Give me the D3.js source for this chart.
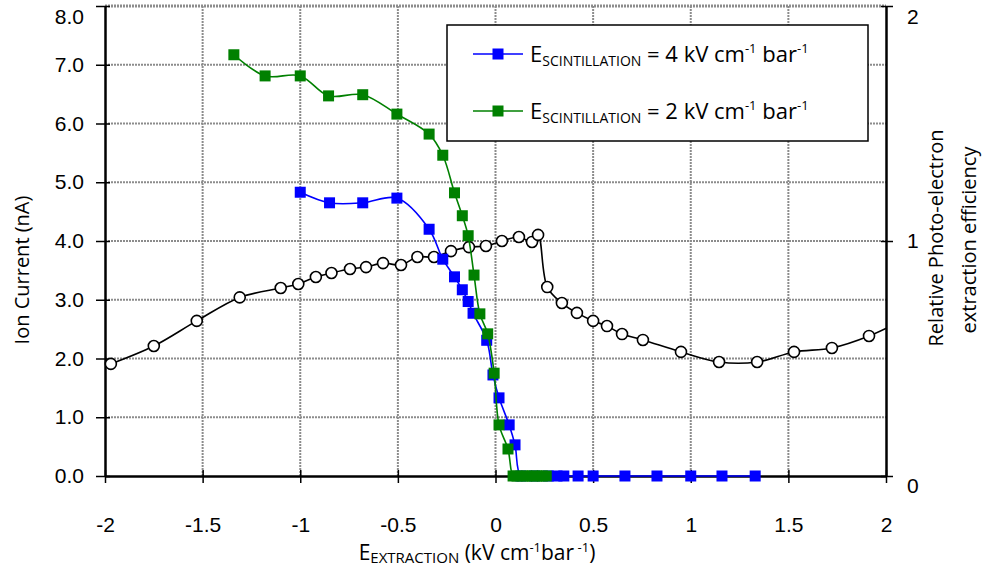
<!DOCTYPE html>
<html>
<head>
<meta charset="utf-8">
<script src="https://cdn.jsdelivr.net/npm/d3@7"></script>
<style>
  body { margin: 0; background: #fff; }
  svg { font-family: "Open Sans", sans-serif; }
</style>
</head>
<body>
<svg width="983" height="572"></svg>
<script>
"use strict"

// relative photo-electron extraction efficiency (right axis)
const effX = [-1.97, -1.75, -1.53, -1.31, -1.10, -1.01, -0.92, -0.84, -0.745, -0.663, -0.576, -0.484, -0.40, -0.315, -0.228, -0.136, -0.049, 0.033, 0.12, 0.187, 0.218, 0.265, 0.34, 0.417, 0.50, 0.571, 0.648, 0.755, 0.95, 1.145, 1.34, 1.529, 1.723, 1.913]
const effY = [0.477, 0.553, 0.66, 0.76, 0.80, 0.817, 0.847, 0.864, 0.881, 0.889, 0.906, 0.898, 0.932, 0.932, 0.957, 0.974, 0.979, 1.0, 1.017, 0.996, 1.026, 0.804, 0.736, 0.694, 0.66, 0.638, 0.604, 0.579, 0.528, 0.485, 0.485, 0.528, 0.545, 0.596]
// line continues past the right edge of the plot
const effTailX = [2.1]
const effTailY = [0.67]

// ion current, E_scintillation = 4 kV/cm/bar
const blueX = [-1.0, -0.85, -0.68, -0.505, -0.34, -0.27, -0.21, -0.17, -0.14, -0.115, -0.045, -0.013, 0.018, 0.07, 0.10, 0.13, 0.2, 0.27, 0.315, 0.35, 0.423, 0.5, 0.663, 0.827, 1.0, 1.16, 1.33]
const blueY = [4.83, 4.65, 4.65, 4.73, 4.20, 3.69, 3.39, 3.17, 2.97, 2.77, 2.31, 1.72, 1.33, 0.87, 0.53, 0, 0, 0, 0, 0, 0, 0, 0, 0, 0, 0, 0]

// ion current, E_scintillation = 2 kV/cm/bar
const greenX = [-1.34, -1.18, -1.0, -0.855, -0.68, -0.505, -0.34, -0.27, -0.21, -0.17, -0.14, -0.11, -0.08, -0.04, -0.007, 0.018, 0.064, 0.09, 0.11, 0.14, 0.16, 0.19, 0.21, 0.24, 0.26]
const greenY = [7.17, 6.81, 6.81, 6.47, 6.49, 6.16, 5.82, 5.46, 4.82, 4.43, 4.09, 3.42, 2.76, 2.42, 1.75, 0.87, 0.46, 0, 0, 0, 0, 0, 0, 0, 0]

const xTicks = [-2, -1.5, -1, -0.5, 0, 0.5, 1, 1.5, 2]
const yLeftTicks = [0, 1, 2, 3, 4, 5, 6, 7, 8]
const yRightTicks = [0, 1, 2]

const plotLeft = 105, plotRight = 886, plotTop = 6, plotBottom = 476

const x = d3.scaleLinear().domain([-2, 2]).range([plotLeft, plotRight])
const yL = d3.scaleLinear().domain([0, 8]).range([plotBottom, plotTop])
const yR = d3.scaleLinear().domain([0, 2]).range([plotBottom, plotTop])

const svg = d3.select("svg")

svg.append("defs").append("clipPath").attr("id", "plot-clip")
    .append("rect").attr("x", plotLeft).attr("y", 0).attr("width", plotRight - plotLeft).attr("height", plotBottom + 10)

// grid
const grid = svg.append("g").attr("class", "grid")
grid.selectAll("line.h").data(yLeftTicks.filter(d => d > 0)).enter().append("line")
    .attr("x1", plotLeft).attr("x2", plotRight)
    .attr("y1", d => yL(d)).attr("y2", d => yL(d))
    .style("stroke", "#8c8c8c").style("stroke-width", d => d === 8 ? 3 : 2).style("stroke-dasharray", "2,1")
grid.selectAll("line.v").data(xTicks.filter(d => d > -2 && d < 2)).enter().append("line")
    .attr("x1", d => x(d)).attr("x2", d => x(d))
    .attr("y1", plotTop).attr("y2", plotBottom)
    .style("stroke", "#8c8c8c").style("stroke-width", 2).style("stroke-dasharray", "2,1")

// axes
const xAxis = d3.axisBottom(x).tickValues(xTicks).tickSizeInner(7).tickSizeOuter(0).tickPadding(49)
    .tickFormat(d => String(d))
const gx = svg.append("g").attr("transform", "translate(0," + plotBottom + ")").call(xAxis)
gx.selectAll(".tick line").attr("y1", -6).style("stroke-width", 1.5)
gx.select(".domain").style("stroke-width", 2.5)
gx.selectAll("text").style("font-size", "21px").attr("dy", "0")

const yAxisL = d3.axisLeft(yL).tickValues(yLeftTicks).tickSizeInner(8).tickSizeOuter(0).tickPadding(13)
    .tickFormat(d3.format(".1f"))
const gyl = svg.append("g").attr("transform", "translate(" + plotLeft + ",0)").call(yAxisL)
gyl.selectAll(".tick line").attr("x2", -9).attr("x1", 5).style("stroke-width", 1.5)
gyl.select(".domain").style("stroke-width", 2.5)
gyl.selectAll("text").style("font-size", "21px")
gyl.selectAll(".tick").filter(d => d === 8).select("text").attr("y", 11)

const yAxisR = d3.axisRight(yR).tickValues(yRightTicks).tickSizeInner(7).tickSizeOuter(0).tickPadding(14)
    .tickFormat(d3.format("d"))
const gyr = svg.append("g").attr("transform", "translate(" + plotRight + ",0)").call(yAxisR)
gyr.selectAll(".tick line").attr("x1", -5).style("stroke-width", 1.5)
gyr.select(".domain").style("stroke-width", 2.5)
gyr.selectAll("text").style("font-size", "21px")
gyr.selectAll(".tick").filter(d => d === 2).select("text").attr("y", 11)
gyr.selectAll(".tick").filter(d => d === 0).select("text").attr("y", 10)

svg.selectAll(".tick text").style("fill", "#000")
svg.selectAll(".domain, .tick line").style("stroke", "#000")

// series
const plot = svg.append("g").attr("clip-path", "url(#plot-clip)")
const smooth = d3.line().curve(d3.curveCatmullRom.alpha(0.5))

const effAllY = effY.concat(effTailY)
const effPts = effX.concat(effTailX).map((d, i) => [x(d), yR(effAllY[i])])
plot.append("path").attr("d", smooth(effPts))
    .style("fill", "none").style("stroke", "#000").style("stroke-width", 1.6)

svg.append("g").selectAll("circle").data(effX.map((d, i) => [d, effY[i]])).enter().append("circle")
    .attr("cx", d => x(d[0])).attr("cy", d => yR(d[1])).attr("r", 5.5)
    .style("fill", "#fff").style("stroke", "#000").style("stroke-width", 1.6)

const series = [
    { xs: blueX, ys: blueY, color: "#0000ff" },
    { xs: greenX, ys: greenY, color: "#008000" }
]

series.forEach(s => {
    const pts = s.xs.map((d, i) => [x(d), yL(s.ys[i])])
    svg.append("path").attr("d", smooth(pts))
        .style("fill", "none").style("stroke", s.color).style("stroke-width", 1.6)
    svg.append("g").selectAll("rect").data(pts).enter().append("rect")
        .attr("x", d => d[0] - 5.5).attr("y", d => d[1] - 5.5)
        .attr("width", 11).attr("height", 11)
        .style("fill", s.color)
})

// axis titles
const xt = svg.append("text").attr("x", 477).attr("y", 560).attr("text-anchor", "middle").style("font-size", "21px")
xt.append("tspan").text("E")
xt.append("tspan").text("EXTRACTION").style("font-size", "15px").attr("dy", 3)
xt.append("tspan").text(" (kV cm").style("font-size", "21px").attr("dy", -3)
xt.append("tspan").text("-1").style("font-size", "13px").attr("dy", -8)
xt.append("tspan").text("bar").style("font-size", "21px").attr("dy", 8)
xt.append("tspan").text(" -1").style("font-size", "13px").attr("dy", -8)
xt.append("tspan").text(")").style("font-size", "21px").attr("dy", 8)

svg.append("text").attr("transform", "translate(29,270) rotate(-90)")
    .attr("text-anchor", "middle").style("font-size", "20px").text("Ion Current (nA)")

svg.append("text").attr("transform", "translate(943,238) rotate(-90)")
    .attr("text-anchor", "middle").style("font-size", "20px").text("Relative Photo-electron")
svg.append("text").attr("transform", "translate(976,240) rotate(-90)")
    .attr("text-anchor", "middle").style("font-size", "20px").text("extraction efficiency")

// legend
svg.append("rect").attr("x", 447).attr("y", 25).attr("width", 421).attr("height", 116)
    .style("fill", "#fff").style("stroke", "#000").style("stroke-width", 1.5)

const legendItems = [
    { label: "4", color: "#0000ff", y: 54 },
    { label: "2", color: "#008000", y: 111 }
]
legendItems.forEach(d => {
    svg.append("line").attr("x1", 473).attr("x2", 523).attr("y1", d.y).attr("y2", d.y)
        .style("stroke", d.color).style("stroke-width", 1.6)
    svg.append("rect").attr("x", 492.5).attr("y", d.y - 5.5).attr("width", 11).attr("height", 11)
        .style("fill", d.color)
    const t = svg.append("text").attr("x", 530).attr("y", d.y + 8).style("font-size", "22px")
    t.append("tspan").text("E")
    t.append("tspan").text("SCINTILLATION").style("font-size", "14px").attr("dy", 4)
    t.append("tspan").text(" = " + d.label + " kV cm").attr("dy", -4)
    t.append("tspan").text("-1").style("font-size", "13px").attr("dy", -9)
    t.append("tspan").text(" bar").attr("dy", 9)
    t.append("tspan").text("-1").style("font-size", "13px").attr("dy", -9)
})
</script>
</body>
</html>
